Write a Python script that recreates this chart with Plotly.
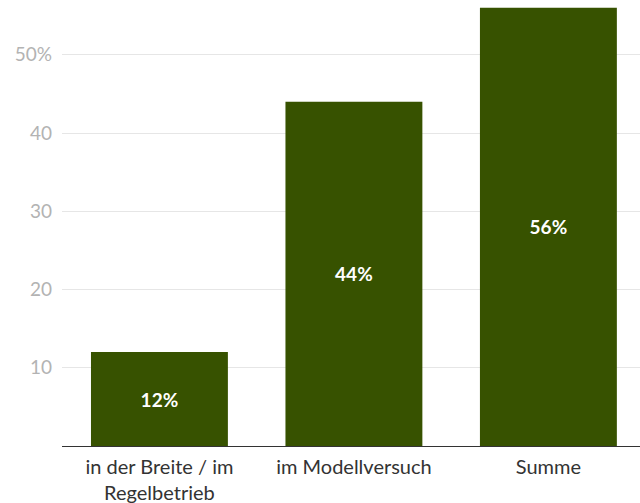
import plotly.graph_objects as go

categories = ["in der Breite / im<br>Regelbetrieb", "im Modellversuch", "Summe"]
values = [12, 44, 56]
labels = ["12%", "44%", "56%"]
y_tickvals = [10, 20, 30, 40, 50]
y_ticktext = ["10", "20", "30", "40", "50%"]

fig = go.Figure(go.Bar(
    x=categories, y=values, text=labels,
    textposition="inside", insidetextanchor="middle",
    textfont=dict(family="Lato, 'Noto Sans', sans-serif", size=19, color="white", weight="bold"),
    marker=dict(color="#375200", line=dict(width=0)),
    width=0.704, cliponaxis=False, hoverinfo="skip",
))

fig.update_layout(
    width=640, height=503,
    margin=dict(l=62, r=0, t=0, b=57, pad=0),
    plot_bgcolor="white", paper_bgcolor="white",
    showlegend=False,
    font=dict(family="Lato, 'Noto Sans', sans-serif"),
    xaxis=dict(
        range=[-0.501, 2.471], automargin=False,
        showgrid=False, showline=True, linecolor="#333333", linewidth=1,
        ticks="", ticklabelstandoff=3, tickfont=dict(size=20, color="#333333"),
    ),
    yaxis=dict(
        range=[0, 57], tickvals=y_tickvals, ticktext=y_ticktext, automargin=False,
        showgrid=True, gridcolor="#e6e6e6", gridwidth=1,
        zeroline=False, showline=False, ticks="",
        ticklabelstandoff=9,
        tickfont=dict(size=19, color="#b3b3b3"),
    ),
)

fig.write_html(
    "out.html",
    config={"displayModeBar": False},
    post_script="document.body.style.margin='0';document.body.style.overflow='hidden';",
)
